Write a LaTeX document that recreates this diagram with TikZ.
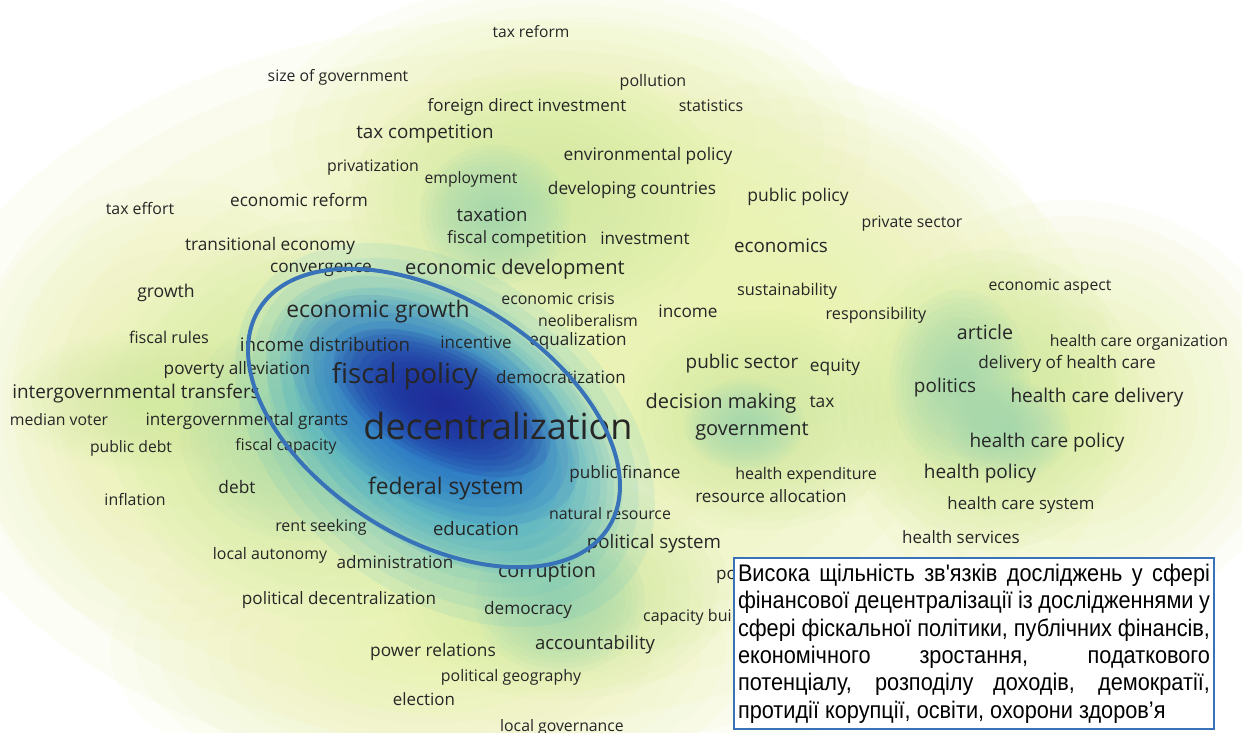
\documentclass[tikz,border=0pt]{standalone}
\usepackage{fontspec}
\newfontfamily\os{Open Sans}
\newfontfamily\nar[FakeStretch=0.905]{Liberation Sans}
\definecolor{yl}{HTML}{EAF3AA}
\definecolor{yg}{HTML}{D2EAA2}
\definecolor{gr}{HTML}{A2D8B4}
\definecolor{tl}{HTML}{55BCC6}
\definecolor{cy}{HTML}{339FD0}
\definecolor{bl}{HTML}{2866C4}
\definecolor{db}{HTML}{1F2A98}
\definecolor{ring}{HTML}{3872B8}
\definecolor{txt}{HTML}{262626}
% soft blob: x y rx ry angle colour opacity-per-ring
\newcommand\blob[7]{\begin{scope}[shift={(#1,#2)},rotate=#5]
  \foreach \k in {1,...,16}{\fill[#6, fill opacity=#7] (0,0) ellipse ({#3*(\k/16)^1.25} and {#4*(\k/16)^1.25});}
\end{scope}}
\newcommand\lbl[5]{\node[lab, font=\os\fontsize{#4}{#4}\selectfont] (#1) at (#2,#3) {#5};}
\tikzset{lab/.style={inner sep=0pt, text=txt},
  notebox/.style={draw=ring, line width=2pt, fill=white, inner xsep=4pt, inner ysep=6pt, anchor=north west, align=left}}
\begin{document}
\begin{tikzpicture}[x=1pt,y=-1pt]
\fill[white] (0,0) rectangle (1242,733);
\useasboundingbox (0,0) rectangle (1242,733);
\begin{scope}
\clip (0,0) rectangle (1242,733);
% yellow base
\blob{520}{400}{600}{380}{0}{yl}{0.11}
\blob{570}{140}{300}{160}{0}{yl}{0.09}
\blob{1070}{410}{230}{210}{0}{yl}{0.10}
\blob{430}{650}{320}{150}{0}{yl}{0.08}
\blob{800}{300}{260}{220}{0}{yl}{0.08}
\blob{180}{410}{210}{230}{0}{yl}{0.08}
% yellow-green
\blob{330}{420}{220}{200}{0}{yg}{0.10}
\blob{150}{400}{140}{70}{0}{yg}{0.08}
\blob{540}{200}{190}{130}{0}{yg}{0.10}
\blob{560}{590}{170}{110}{0}{yg}{0.10}
\blob{760}{420}{140}{110}{0}{yg}{0.10}
\blob{990}{400}{150}{150}{0}{yg}{0.11}
% green spots
\blob{300}{430}{120}{110}{0}{gr}{0.07}
\blob{495}{215}{75}{70}{0}{gr}{0.11}
\blob{745}{425}{60}{45}{0}{gr}{0.11}
\blob{960}{380}{70}{90}{0}{gr}{0.10}
\blob{1010}{430}{60}{50}{0}{gr}{0.10}
\blob{560}{600}{85}{75}{0}{gr}{0.11}
% main cluster
\blob{445}{435}{235}{160}{-38}{tl}{0.12}
\blob{440}{425}{195}{120}{-35}{cy}{0.12}
\blob{435}{410}{160}{92}{-32}{bl}{0.13}
\blob{442}{403}{118}{58}{-27}{db}{0.15}
\end{scope}
% labels
\lbl{taxreform}{531}{32}{15.6}{tax reform}
\lbl{sizegov}{338}{77}{15.8}{size of government}
\lbl{pollution}{653}{82}{16}{pollution}
\lbl{fdi}{527}{107}{17}{foreign direct investment}
\lbl{statistics}{711}{106}{16}{statistics}
\lbl{taxcomp}{425}{134}{18.8}{tax competition}
\lbl{privat}{373}{168}{15.9}{privatization}
\lbl{employ}{471}{179}{15.7}{employment}
\lbl{envpol}{648}{156}{17.3}{environmental policy}
\lbl{devcount}{632}{190}{17.3}{developing countries}
\lbl{pubpol}{798}{197}{17.5}{public policy}
\lbl{taxeffort}{140}{208}{15.9}{tax effort}
\lbl{ecreform}{299}{200}{17.2}{economic reform}
\lbl{taxation}{492}{215}{18.6}{taxation}
\lbl{privsec}{912}{224}{15.8}{private sector}
\lbl{transec}{270}{246}{17.3}{transitional economy}
\lbl{fiscomp}{517}{239}{17}{fiscal competition}
\lbl{invest}{645}{238}{17.1}{investment}
\lbl{economics}{781}{246}{18.8}{economics}
\lbl{converg}{321}{270}{17.2}{convergence}
\lbl{ecdev}{515}{269}{20.1}{economic development}
\lbl{growth}{166}{293}{17.6}{growth}
\lbl{ecaspect}{1050}{287}{15.7}{economic aspect}
\lbl{sustain}{787}{291}{16.3}{sustainability}
\lbl{eccrisis}{558}{299}{15.9}{economic crisis}
\lbl{ecgrowth}{378}{312}{22.8}{economic growth}
\lbl{income}{688}{311}{17.2}{income}
\lbl{neolib}{588}{321}{15.8}{neoliberalism}
\lbl{respons}{876}{315}{16.2}{responsibility}
\lbl{article}{985}{332}{19.6}{article}
\lbl{fisrules}{169}{337}{16.2}{fiscal rules}
\lbl{incdist}{325}{344}{18.7}{income distribution}
\lbl{incentive}{476}{342}{17}{incentive}
\lbl{equal}{578}{341}{17.1}{equalization}
\lbl{hcorg}{1139}{342}{15.8}{health care organization}
\lbl{pubsec}{742}{364}{18.9}{public sector}
\lbl{equity}{835}{367}{17.3}{equity}
\lbl{delhc}{1067}{364}{17.2}{delivery of health care}
\lbl{poverty}{237}{370}{17.2}{poverty alleviation}
\lbl{fispol}{405}{376}{27.5}{fiscal policy}
\lbl{democz}{561}{377}{17.1}{democratization}
\lbl{politics}{945}{388}{18.9}{politics}
\lbl{igtrans}{136}{394}{18.9}{intergovernmental transfers}
\lbl{hcdel}{1097}{398}{19}{health care delivery}
\lbl{decmak}{721}{403}{20}{decision making}
\lbl{tax}{822}{402}{17.4}{tax}
\lbl{medvoter}{59}{420}{15.8}{median voter}
\lbl{iggrants}{247}{421}{17.1}{intergovernmental grants}
\lbl{decentr}{498}{426}{36}{decentralization}
\lbl{govt}{752}{431}{20}{government}
\lbl{hcpol}{1047}{443}{19}{health care policy}
\lbl{pubdebt}{131}{448}{15.7}{public debt}
\lbl{fiscap}{286}{446}{15.8}{fiscal capacity}
\lbl{pubfin}{625}{474}{17.1}{public finance}
\lbl{hexp}{806}{475}{16}{health expenditure}
\lbl{hpol}{980}{474}{19}{health policy}
\lbl{debt}{237}{487}{17.3}{debt}
\lbl{fedsys}{446}{489}{22.8}{federal system}
\lbl{inflation}{135}{499}{15.9}{inflation}
\lbl{resalloc}{771}{496}{17.1}{resource allocation}
\lbl{hcsys}{1021}{505}{16.8}{health care system}
\lbl{rentseek}{321}{527}{16}{rent seeking}
\lbl{educ}{476}{529}{18.5}{education}
\lbl{natres}{610}{514}{15.9}{natural resource}
\lbl{hserv}{961}{537}{17}{health services}
\lbl{polsys}{654}{544}{18.7}{political system}
\lbl{locaut}{270}{555}{15.9}{local autonomy}
\lbl{admin}{395}{562}{17.1}{administration}
\lbl{corrupt}{547}{573}{19.8}{corruption}
\node[lab, anchor=west, font=\os\fontsize{17}{17}\selectfont] (polmak) at (716,577) {po};
\lbl{poldec}{339}{600}{17.1}{political decentralization}
\lbl{democ}{528}{610}{17.2}{democracy}
\node[lab, anchor=west, font=\os\fontsize{16}{16}\selectfont] (capbuild) at (643,617) {capacity bui};
\lbl{account}{595}{645}{18.5}{accountability}
\lbl{powrel}{433}{652}{17.3}{power relations}
\lbl{polgeo}{511}{677}{15.9}{political geography}
\lbl{election}{424}{699}{16.9}{election}
\lbl{locgov}{562}{727}{15.8}{local governance}
% highlight ellipse
\draw[ring, line width=4pt, rotate around={-32:(434,418)}] (434,418) ellipse (206 and 120);
% note box
\node[notebox, font=\nar\fontsize{24}{27.4}\selectfont] (note) at (733,557) {%
\makebox[472pt][s]{Висока щільність зв'язків досліджень у сфері}\\
\makebox[472pt][s]{фінансової децентралізації із дослідженнями у}\\
\makebox[472pt][s]{сфері фіскальної політики, публічних фінансів,}\\
\makebox[472pt][s]{економічного зростання, податкового}\\
\makebox[472pt][s]{потенціалу, розподілу доходів, демократії,}\\
протидії корупції, освіти, охорони здоров’я};
\end{tikzpicture}
\end{document}
